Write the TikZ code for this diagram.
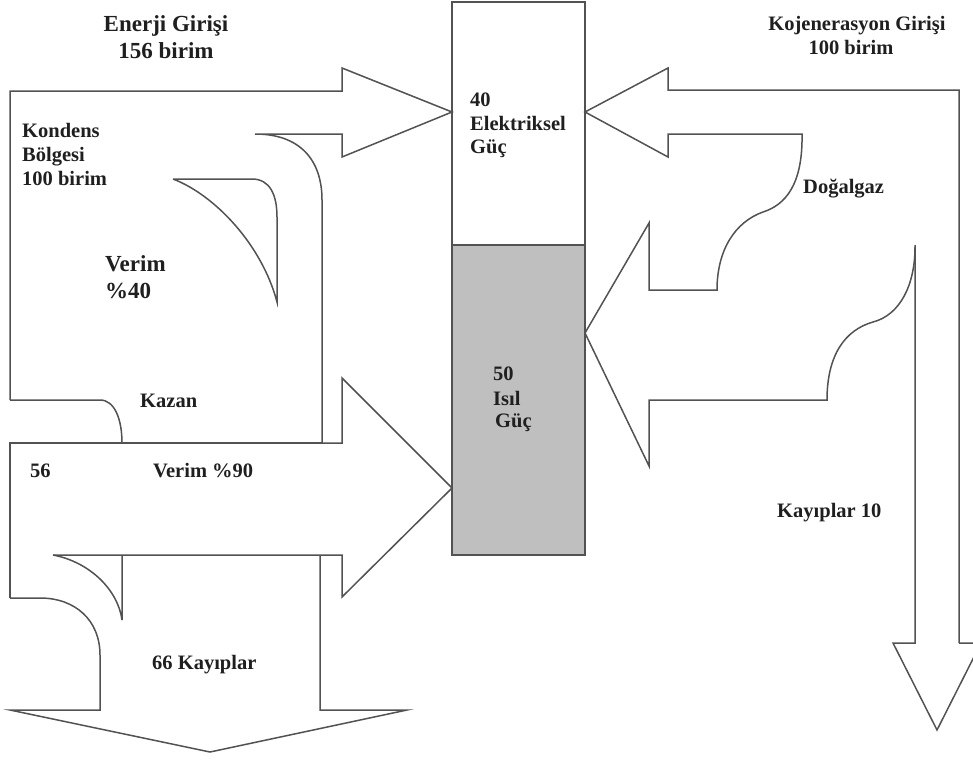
\documentclass[tikz,border=0pt]{standalone}
\usepackage{fontspec}
\setmainfont{Liberation Serif}
\begin{document}
\begin{tikzpicture}[x=1pt,y=-1pt,
  ln/.style={draw=black!68,line width=1.5pt,line join=miter},
  lbl/.style={font=\fontsize{20.5}{24}\selectfont\bfseries,inner sep=0pt,anchor=base west,text=black!88},
  big/.style={font=\fontsize{23}{27}\selectfont\bfseries,inner sep=0pt,anchor=base,text=black!88},
  lblc/.style={lbl,anchor=base}]
\useasboundingbox (0,0) rectangle (973,760);
\clip (0,0) rectangle (973,760);
% central column
\path[ln,fill=white] (452,2) rectangle (585,245);
\path[ln,fill=black!25] (452,245) rectangle (585,555);
\coordinate (boxtopL) at (452,112);
\coordinate (boxmidL) at (452,488);
\coordinate (boxtopR) at (585,112);
\coordinate (boxmidR) at (585,333);
% left flow: energy input arrow and boiler arrow
\draw[ln] (10,400) -- (10,91) -- (342,91) -- (342,68) -- (boxtopL) -- (342,157) -- (342,134) -- (255,134)
  .. controls (300,134) and (322,160) .. (322,200) -- (322,443) -- (342,443) -- (342,378) -- (boxmidL)
  -- (342,597) -- (342,555) -- (53,555);
\draw[ln] (10,598) -- (10,443) -- (322,443);
\draw[ln] (10,400) -- (100,400) .. controls (115,400) and (122,420) .. (122,443);
\draw[ln] (320,555) -- (320,710) -- (407,710) -- (210,752) -- (10,710) -- (100,710) -- (100,655)
  .. controls (100,620) and (75,598) .. (40,598) -- (10,598);
% crescents
\draw[ln] (173,179) -- (252,179) .. controls (270,179) and (277,195) .. (277,217) -- (277,302)
  .. controls (262,245) and (215,195) .. (173,179);
\draw[ln] (122,555) -- (122,620) .. controls (118,590) and (90,562) .. (53,555);
% right flow: cogeneration
\draw[ln] (959,643) -- (959,90) -- (668,90) -- (668,68) -- (boxtopR) -- (668,157) -- (668,134) -- (802,134)
  .. controls (803,185) and (785,205) .. (763,212) .. controls (735,222) and (717,250) .. (717,290)
  -- (649,290) -- (649,223) -- (boxmidR) -- (649,466) -- (649,400) -- (827,400)
  .. controls (827,355) and (845,330) .. (873,322) .. controls (900,315) and (915,285) .. (915,247);
\draw[ln] (915,245) -- (915,643) -- (893,643) -- (937,730) -- (981,643) -- (959,643);
% labels
\node[big] (t1) at (166,32) {Enerji Girişi};
\node[big] (t2) at (166,59) {156 birim};
\node[lbl] (k1) at (22,137) {Kondens};
\node[lbl] (k2) at (22,161) {Bölgesi};
\node[lbl] (k3) at (22,185) {100 birim};
\node[lbl,font=\fontsize{23}{27}\selectfont\bfseries] (v1) at (105,271) {Verim};
\node[lbl,font=\fontsize{23}{27}\selectfont\bfseries] (v2) at (105,298) {\%40};
\node[lbl] (kz) at (140,407) {Kazan};
\node[lbl] (n56) at (30,477) {56};
\node[lbl] (v90) at (153,477) {Verim \%90};
\node[lbl] (k66) at (152,669) {66 Kayıplar};
\node[lbl] (e1) at (470,106) {40};
\node[lbl] (e2) at (470,130) {Elektriksel};
\node[lbl] (e3) at (470,153) {Güç};
\node[lbl] (i1) at (493,380) {50};
\node[lbl] (i2) at (493,405) {Isıl};
\node[lbl] (i3) at (495,427) {Güç};
\node[lblc] (kj1) at (857,31) {Kojenerasyon Girişi};
\node[lblc] (kj2) at (851,55) {100 birim};
\node[lbl] (dg) at (803,193) {Doğalgaz};
\node[lbl] (k10) at (777,517) {Kayıplar 10};
\end{tikzpicture}
\end{document}
